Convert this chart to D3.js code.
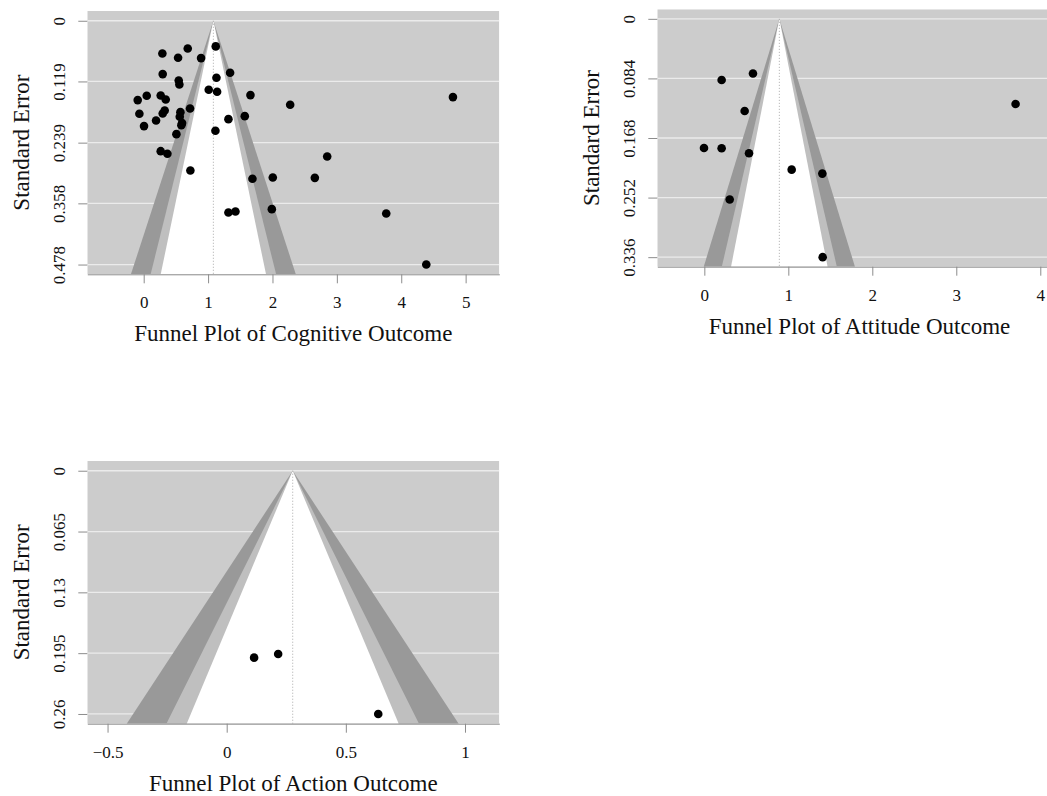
<!DOCTYPE html>
<html>
<head>
<meta charset="utf-8">
<script src="https://cdn.jsdelivr.net/npm/d3@7"></script>
<style>
  body { margin: 0; background: #fff; }
  svg text { font-family: "Liberation Serif", "Times New Roman", serif; fill: #111; }
</style>
</head>
<body>
<svg id="chart" width="1047" height="796"></svg>
<script>
// cognitive outcome: effect estimates and standard errors
var cogEst = [0.290, 0.684, 0.534, 0.891, 1.119, 0.295, 1.342, 0.544, 0.554, 1.130,
  1.010, 1.140, 1.658, -0.093, 0.047, 0.264, 0.342, 4.803, 2.275, -0.067,
  0.326, 0.295, 0.570, 0.720, 0.560, 0.192, 0.596, 0.585, 0.005, 1.316,
  1.570, 0.508, 1.114, 0.264, 0.368, 2.850, 0.725, 1.689, 2.005, 2.658,
  1.316, 1.425, 1.990, 3.767, 4.389];
var cogSE = [0.0641, 0.0543, 0.0726, 0.0732, 0.0503, 0.1046, 0.1020, 0.1170, 0.1249, 0.1118,
  0.1354, 0.1393, 0.1458, 0.1556, 0.1471, 0.1465, 0.1543, 0.1497, 0.1648, 0.1824,
  0.1759, 0.1818, 0.1792, 0.1720, 0.1883, 0.1955, 0.2007, 0.2047, 0.2066, 0.1929,
  0.1870, 0.2223, 0.2158, 0.2557, 0.2609, 0.2661, 0.2936, 0.3099, 0.3073, 0.3080,
  0.3760, 0.3740, 0.3694, 0.3780, 0.4780];
var cogMean = 1.082;
var cogXTicks = [0, 1, 2, 3, 4, 5];
var cogYTicks = [0, 0.119, 0.239, 0.358, 0.478];

// attitude outcome
var attEst = [0.579, 0.206, 0.480, 3.706, -0.004, 0.206, 0.532, 1.040, 1.405, 0.302, 1.409];
var attSE = [0.0770, 0.0863, 0.1300, 0.1201, 0.1821, 0.1825, 0.1896, 0.2126, 0.2182, 0.2548, 0.3360];
var attMean = 0.893;
var attXTicks = [0, 1, 2, 3, 4];
var attYTicks = [0, 0.084, 0.168, 0.252, 0.336];

// action outcome
var actEst = [0.115, 0.216, 0.636];
var actSE = [0.1998, 0.1959, 0.2600];
var actMean = 0.277;
var actXTicks = [-0.5, 0, 0.5, 1];
var actYTicks = [0, 0.065, 0.13, 0.195, 0.26];

// contour z values (99%, 95%, 90%) and their fills
var zLevels = [2.576, 1.96, 1.645];
var zFills = ["#999999", "#bfbfbf", "#ffffff"];

var svg = d3.select("#chart");

var panels = [
  { title: "Funnel Plot of Cognitive Outcome", est: cogEst, se: cogSE, mean: cogMean,
    xTicks: cogXTicks, yTicks: cogYTicks, xDom: [-0.876, 5.523],
    left: 87.3, right: 499.3, top: 11, bottom: 274.3 },
  { title: "Funnel Plot of Attitude Outcome", est: attEst, se: attSE, mean: attMean,
    xTicks: attXTicks, yTicks: attYTicks, xDom: [-0.56, 4.255],
    left: 657.3, right: 1061.7, top: 9.3, bottom: 266.7 },
  { title: "Funnel Plot of Action Outcome", est: actEst, se: actSE, mean: actMean,
    xTicks: actXTicks, yTicks: actYTicks, xDom: [-0.585, 1.144],
    left: 87.3, right: 499.3, top: 461, bottom: 723.7 }
];

// R style labels: minus sign instead of hyphen
function fmt(d) { return String(d).replace("-", "\u2212"); }

panels.forEach(function(p, i) {
  var yMax = d3.max(p.yTicks);
  var pad = yMax * 0.04;
  var x = d3.scaleLinear().domain(p.xDom).range([p.left, p.right]);
  var y = d3.scaleLinear().domain([-pad, yMax + pad]).range([p.top, p.bottom]);

  var g = svg.append("g");
  var clipId = "clip" + i;
  g.append("clipPath").attr("id", clipId)
    .append("rect")
    .attr("x", p.left).attr("y", p.top)
    .attr("width", p.right - p.left).attr("height", p.bottom - p.top);

  var plot = g.append("g").attr("clip-path", "url(#" + clipId + ")");

  plot.append("rect")
    .attr("x", p.left).attr("y", p.top)
    .attr("width", p.right - p.left).attr("height", p.bottom - p.top)
    .attr("fill", "#cccccc");

  plot.selectAll("line.grid")
    .data(p.yTicks)
    .enter().append("line")
    .attr("class", "grid")
    .attr("x1", p.left).attr("x2", p.right)
    .attr("y1", function(d) { return y(d); })
    .attr("y2", function(d) { return y(d); })
    .attr("stroke", "#ebebeb")
    .attr("stroke-width", 1.3);

  // funnel contours, widest first
  var seSteps = [0, yMax + pad];
  zLevels.forEach(function(z, k) {
    var area = d3.area()
      .y(function(s) { return y(s); })
      .x0(function(s) { return x(p.mean - z * s); })
      .x1(function(s) { return x(p.mean + z * s); });
    plot.append("path")
      .datum(seSteps)
      .attr("d", area)
      .attr("fill", zFills[k]);
  });

  plot.append("line")
    .attr("x1", x(p.mean)).attr("x2", x(p.mean))
    .attr("y1", y(0)).attr("y2", y(yMax + pad))
    .attr("stroke", "#aaaaaa")
    .attr("stroke-width", 1)
    .attr("stroke-dasharray", "1,2");

  plot.selectAll("circle")
    .data(p.est)
    .enter().append("circle")
    .attr("cx", function(d) { return x(d); })
    .attr("cy", function(d, j) { return y(p.se[j]); })
    .attr("r", 4.3)
    .attr("fill", "#000");

  // bottom axis
  var xAxis = g.append("g")
    .attr("transform", "translate(0," + p.bottom + ")")
    .call(d3.axisBottom(x).tickValues(p.xTicks).tickSize(9).tickSizeOuter(0).tickFormat(fmt))
    .attr("font-family", "Liberation Serif, serif")
    .attr("font-size", 17);
  xAxis.select(".domain").attr("stroke", "#8c8c8c");
  xAxis.selectAll(".tick line").attr("stroke", "#8c8c8c");
  xAxis.selectAll(".tick text")
    .attr("y", 34).attr("dy", 0);

  // left axis with rotated labels
  var yAxis = g.append("g")
    .attr("transform", "translate(" + p.left + ",0)")
    .call(d3.axisLeft(y).tickValues(p.yTicks).tickSize(9).tickSizeOuter(0).tickFormat(fmt))
    .attr("font-family", "Liberation Serif, serif")
    .attr("font-size", 17);
  yAxis.select(".domain").remove();
  yAxis.selectAll(".tick line").attr("stroke", "#8c8c8c");
  yAxis.selectAll(".tick text")
    .attr("x", 0).attr("dy", 0)
    .attr("transform", "translate(-22,0) rotate(-90)")
    .attr("text-anchor", "middle");

  g.append("text")
    .attr("x", (p.left + p.right) / 2)
    .attr("y", p.bottom + 67)
    .attr("text-anchor", "middle")
    .style("font-size", "23px")
    .text(p.title);

  g.append("text")
    .attr("transform", "translate(" + (p.left - 58) + "," + ((p.top + p.bottom) / 2) + ") rotate(-90)")
    .attr("text-anchor", "middle")
    .style("font-size", "23px")
    .text("Standard Error");
});
</script>
</body>
</html>
